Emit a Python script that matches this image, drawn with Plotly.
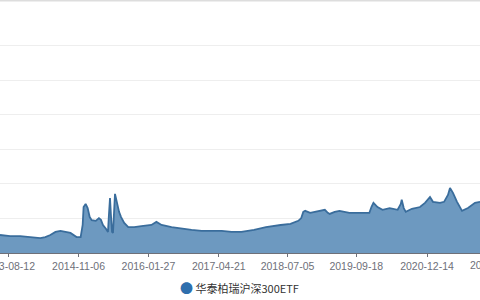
import plotly.graph_objects as go

series_name = "华泰柏瑞沪深300ETF"

dates = [
    "2013-06-21", "2013-08-25", "2013-10-28", "2014-01-02", "2014-03-06", "2014-04-07",
    "2014-05-09", "2014-06-11", "2014-07-13", "2014-08-14", "2014-09-15", "2014-10-24",
    "2014-11-19", "2014-12-02", "2014-12-08", "2014-12-21", "2015-01-03", "2015-01-16",
    "2015-01-29", "2015-02-24", "2015-03-16", "2015-03-29", "2015-04-11", "2015-04-30",
    "2015-05-13", "2015-05-19", "2015-05-26", "2015-06-01", "2015-06-08", "2015-06-14",
    "2015-06-21", "2015-06-27", "2015-07-10", "2015-07-23", "2015-08-05", "2015-08-25",
    "2015-09-20", "2015-10-28", "2015-12-13", "2016-02-15", "2016-03-18", "2016-04-20",
    "2016-06-23", "2016-08-26", "2016-10-29", "2017-01-02", "2017-03-07", "2017-05-10",
    "2017-07-12", "2017-09-13", "2017-12-03", "2018-02-17", "2018-05-22", "2018-07-24",
    "2018-09-12", "2018-10-01", "2018-10-14", "2018-10-26", "2018-11-27", "2018-12-28",
    "2019-01-29", "2019-03-01", "2019-03-20", "2019-04-01", "2019-05-03", "2019-06-03",
    "2019-08-05", "2019-10-07", "2019-12-11", "2019-12-24", "2020-01-06", "2020-02-01",
    "2020-03-04", "2020-04-19", "2020-06-09", "2020-06-29", "2020-07-05", "2020-07-18",
    "2020-07-31", "2020-09-08", "2020-10-30", "2020-12-01", "2021-01-02", "2021-01-21",
    "2021-03-07", "2021-04-02", "2021-04-27", "2021-05-10", "2021-05-29", "2021-06-24",
    "2021-07-26", "2021-09-02", "2021-10-17", "2021-11-18",
]

values = [
    52, 49, 49, 46, 43, 46,
    52, 61, 64, 61, 58, 46,
    46, 81, 133, 142, 130, 104,
    95, 93, 101, 96, 81, 70,
    61, 110, 159, 110, 61, 58,
    125, 171, 145, 119, 104, 87,
    75, 75, 78, 81, 90, 81,
    75, 70, 67, 64, 64, 64,
    61, 61, 67, 75, 81, 84,
    93, 101, 119, 122, 116, 119,
    122, 125, 116, 113, 119, 122,
    116, 116, 116, 133, 145, 133,
    125, 130, 125, 142, 154, 130,
    119, 128, 133, 145, 162, 148,
    145, 148, 168, 188, 174, 148,
    122, 130, 145, 148,
]

tick_dates = ["2013-08-12", "2014-11-06", "2016-01-27", "2017-04-21",
              "2018-07-05", "2019-09-18", "2020-12-14"]
next_tick_label = "2022-03-09"

x_range = ["2013-06-21", "2021-11-18"]
y_range = [0, 700]

axis_grey = "#6E7079"
grid_grey = "#EEEEEE"
fill_col = "rgba(101,148,189,0.95)"
line_col = "#3a6d9c"
legend_col = "#2f6fad"

fig = go.Figure()
fig.add_trace(go.Scatter(
    x=dates, y=values, name=series_name, mode="lines",
    line=dict(color=line_col, width=1.8),
    fill="tozeroy", fillcolor=fill_col,
    showlegend=False, hoverinfo="x+y",
))

fig.update_layout(
    width=480, height=300,
    margin=dict(l=0, r=0, t=11, b=47, autoexpand=False),
    paper_bgcolor="white", plot_bgcolor="white",
    font=dict(family="Liberation Sans, Noto Sans CJK SC, sans-serif", size=11, color=axis_grey),
    xaxis=dict(
        type="date", range=x_range, automargin=False,
        tickmode="array", tickvals=tick_dates, ticktext=tick_dates,
        showgrid=False, zeroline=False,
        showline=True, linecolor=axis_grey, linewidth=1,
        ticks="outside", ticklen=3, tickcolor=axis_grey,
        ticklabeloverflow="allow",
        tickfont=dict(size=10.5, color=axis_grey),
    ),
    yaxis=dict(
        range=y_range, dtick=100, showticklabels=False, automargin=False,
        showgrid=True, gridcolor=grid_grey, gridwidth=1,
        zeroline=False, showline=False,
    ),
    showlegend=False,
    annotations=[
        dict(xref="paper", yref="paper", x=497 / 480, y=-12 / 242,
             text=next_tick_label, showarrow=False, xanchor="center", yanchor="middle",
             font=dict(size=10.5, color=axis_grey)),
        dict(xref="paper", yref="paper", x=178 / 480, y=-(287 - 253) / 242,
             text=f"<span style='color:{legend_col};font-size:13px'>●</span> {series_name}",
             showarrow=False, xanchor="left", yanchor="middle",
             font=dict(family="Noto Sans CJK SC, sans-serif", size=11, color="#333333")),
    ],
    shapes=[
        dict(type="line", xref="paper", yref="paper", x0=0, x1=1,
             y0=1 + 10.3 / 242, y1=1 + 10.3 / 242, line=dict(color="#dddddd", width=1.5)),
    ],
)

fig.write_html("out.html")
